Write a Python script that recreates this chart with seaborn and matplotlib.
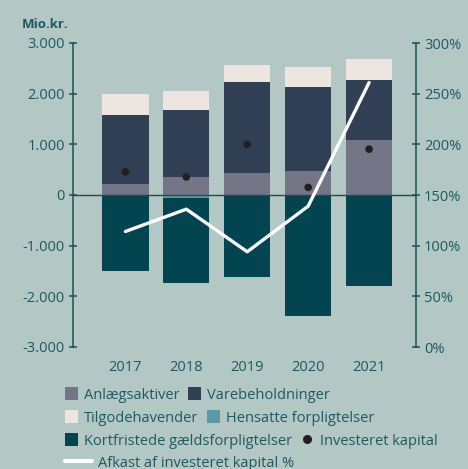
import numpy as np
import pandas as pd
import matplotlib
matplotlib.use("Agg")
import matplotlib.pyplot as plt
import seaborn as sns
from matplotlib.patches import Patch
from matplotlib.lines import Line2D

years = ["2017", "2018", "2019", "2020", "2021"]
anlaeg = [220, 355, 440, 475, 1085]
varebeh = [1360, 1330, 1800, 1660, 1190]
tilgode = [410, 370, 330, 395, 415]
hensatte = [0, -60, 0, 0, 0]
kortfrist = [-1500, -1675, -1615, -2385, -1790]
investeret = [460, 355, 1000, 150, 905]
afkast = [114, 136, 94, 139, 261]

left_ticks = [3000, 2000, 1000, 0, -1000, -2000, -3000]
left_labels = ["3.000", "2.000", "1.000", "0", "-1.000", "-2.000", "-3.000"]
right_ticks = [0, 50, 100, 150, 200, 250, 300]
right_labels = ["0%", "50%", "100%", "150%", "200%", "250%", "300%"]

BG = "#b3c7c5"
C_ANL = "#747587"
C_VARE = "#313f55"
C_TIL = "#ede5df"
C_HEN = "#5b9aa2"
C_KORT = "#024450"
C_DOT = "#231f20"
TXT = "#1d5961"
AX = "#1b4f57"

sns.set_theme(style="white")
plt.rcParams["font.family"] = ["Open Sans", "DejaVu Sans"]

fig = plt.figure(figsize=(4.68, 4.69), dpi=100, facecolor=BG)
ax = fig.add_axes([73 / 468, 1 - 347 / 469, (416 - 73) / 468, (347 - 43) / 469])
ax.set_facecolor(BG)

x = np.arange(len(years))
a = np.array(anlaeg); v = np.array(varebeh); t = np.array(tilgode)
h = np.array(hensatte); k = np.array(kortfrist)

bw = 0.76
sns.barplot(x=x, y=a, color=C_ANL, width=bw, saturation=1, ax=ax, native_scale=True)
sns.barplot(x=x, y=v, bottom=a, color=C_VARE, width=bw, saturation=1, ax=ax, native_scale=True)
sns.barplot(x=x, y=t, bottom=a + v, color=C_TIL, width=bw, saturation=1, ax=ax, native_scale=True)
sns.barplot(x=x, y=h, color=C_HEN, width=bw, saturation=1, ax=ax, native_scale=True)
sns.barplot(x=x, y=k, bottom=h, color=C_KORT, width=bw, saturation=1, ax=ax, native_scale=True)
for p in ax.patches:
    p.set_linewidth(0)

ax.axhline(0, color=AX, lw=1.0, zorder=3)
sns.scatterplot(x=x, y=investeret, color=C_DOT, s=30, edgecolor="none", zorder=5, ax=ax)

ax.set_xlim(-0.86, 4.77)
ax.set_ylim(-3000, 3000)
ax.set_yticks(left_ticks)
ax.set_yticklabels(left_labels)
ax.set_xticks(x)
ax.set_xticklabels(years)
ax.set_xlabel("")
ax.set_ylabel("")

ax2 = ax.twinx()
sns.lineplot(x=x, y=afkast, color="white", lw=2.4, ax=ax2, zorder=6)
ax2.set_ylim(0, 300)
ax2.set_yticks(right_ticks)
ax2.set_yticklabels(right_labels)
ax2.set_ylabel("")

for axx in (ax, ax2):
    for s in ["top", "bottom"]:
        axx.spines[s].set_visible(False)
    axx.spines["left"].set_visible(axx is ax)
    axx.spines["right"].set_visible(axx is ax2)
    for s in ["left", "right"]:
        axx.spines[s].set_color(AX)
        axx.spines[s].set_linewidth(1.1)
    axx.tick_params(axis="y", direction="inout", length=5.5, width=1.1, color=AX,
                    labelcolor=TXT, labelsize=10.5, pad=3)
ax.tick_params(axis="x", length=0, labelcolor=TXT, labelsize=10.5, pad=9)
ax2.patch.set_visible(False)

fig.text(22 / 468, 1 - 24 / 469, "Mio.kr.", color=TXT, fontsize=9.5, fontweight="bold",
         ha="left", va="center")

def sq(c):
    return Patch(facecolor=c, edgecolor="none")

rows = [
    ([sq(C_ANL), sq(C_VARE)], ["Anlægsaktiver", "Varebeholdninger"], 395, dict(handlelength=0.9)),
    ([sq(C_TIL), sq(C_HEN)], ["Tilgodehavender", "Hensatte forpligtelser"], 418, dict(handlelength=0.9)),
    ([sq(C_KORT), Line2D([], [], marker="o", color=C_DOT, ls="none", markersize=5.5)],
     ["Kortfristede gældsforpligtelser", "Investeret kapital"], 441, dict(handlelength=0.9)),
    ([Line2D([], [], color="white", lw=3)], ["Afkast af investeret kapital %"], 463, dict(handlelength=1.85)),
]
for handles, labels, ypix, kw in rows:
    leg = fig.legend(handles, labels, loc="center left",
                     bbox_to_anchor=(65 / 468, 1 - ypix / 469), ncol=len(labels),
                     frameon=False, fontsize=10.5, handleheight=0.9, handletextpad=0.4,
                     columnspacing=0.6, borderaxespad=0, borderpad=0, **kw)
    for tx in leg.get_texts():
        tx.set_color(TXT)

fig.savefig("out.png", dpi=100, facecolor=BG)
